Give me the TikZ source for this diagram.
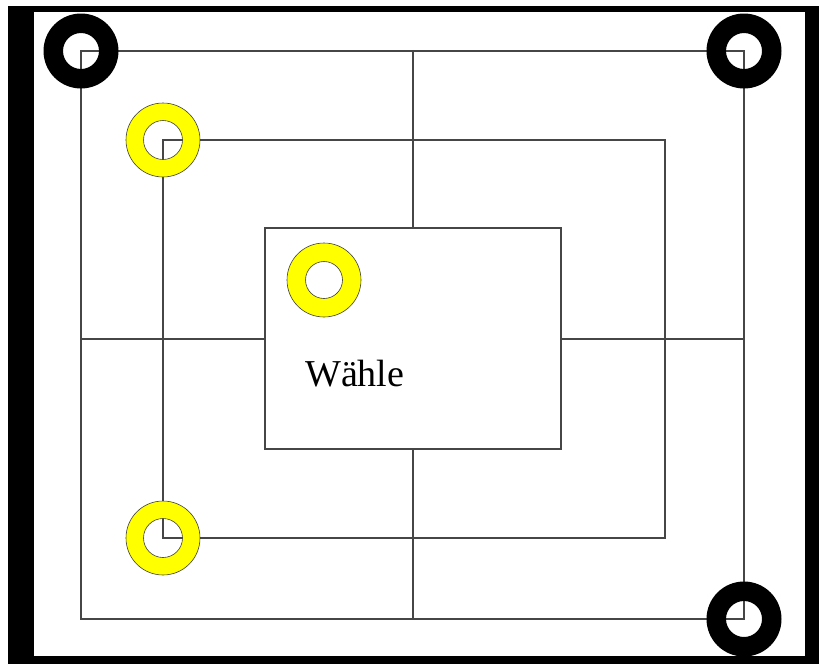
\documentclass[tikz,border=0pt]{standalone}
\usepackage{fontspec}
\setmainfont{Liberation Serif}
\usepackage{tikz}
\usetikzlibrary{positioning}
\definecolor{steingelb}{RGB}{255, 255, 0}
\definecolor{linie}{RGB}{70, 70, 70}

\tikzset{
    brett/.style={draw=linie, line width=1.1pt},
    schwarzring/.style={fill=black, even odd rule},
    gelbring/.style={fill=steingelb, draw=black!75, line width=0.6pt, even odd rule},
}

\begin{document}
\begin{tikzpicture}[x=1pt, y=-1pt]
    \useasboundingbox (0, 0) rectangle (819, 664);

    % Rahmen
    \fill[black] (8, 6) rectangle (819, 664);
    \fill[white] (34, 12) rectangle (805, 656);

    % Ecken der drei Quadrate
    \coordinate (aol) at (81, 51);
    \coordinate (aor) at (744, 51);
    \coordinate (aur) at (744, 619);
    \coordinate (aul) at (81, 619);
    \coordinate (mol) at (163, 140);
    \coordinate (mor) at (665, 140);
    \coordinate (mur) at (665, 538);
    \coordinate (mul) at (163, 538);
    \coordinate (iol) at (265, 228);
    \coordinate (iur) at (561, 449);

    % Linien
    \draw[brett] (aol) rectangle (aur);
    \draw[brett] (mol) rectangle (mur);
    \draw[brett] (iol) rectangle (iur);
    \draw[brett] (aol -| 413, 0) -- (iol -| 413, 0);
    \draw[brett] (iur -| 413, 0) -- (aur -| 413, 0);
    \draw[brett] (aol |- 0, 339) -- (iol |- 0, 339);
    \draw[brett] (iur |- 0, 339) -- (aur |- 0, 339);

    % Steine
    \foreach \p in {aol, aor, aur}
        \fill[schwarzring] (\p) circle (37.5pt) (\p) circle (18pt);
    \foreach \p in {mol, mul}
        \draw[gelbring] (\p) circle (37pt) (\p) circle (19.5pt);
    \coordinate (wahlstein) at (324, 280);
    \draw[gelbring] (wahlstein) circle (37pt) (wahlstein) circle (18.5pt);

    % Text
    \node[anchor=base west, inner sep=0pt, font=\fontsize{38}{40}\selectfont] (wahl) at (305, 386) {Wähle};
\end{tikzpicture}
\end{document}
